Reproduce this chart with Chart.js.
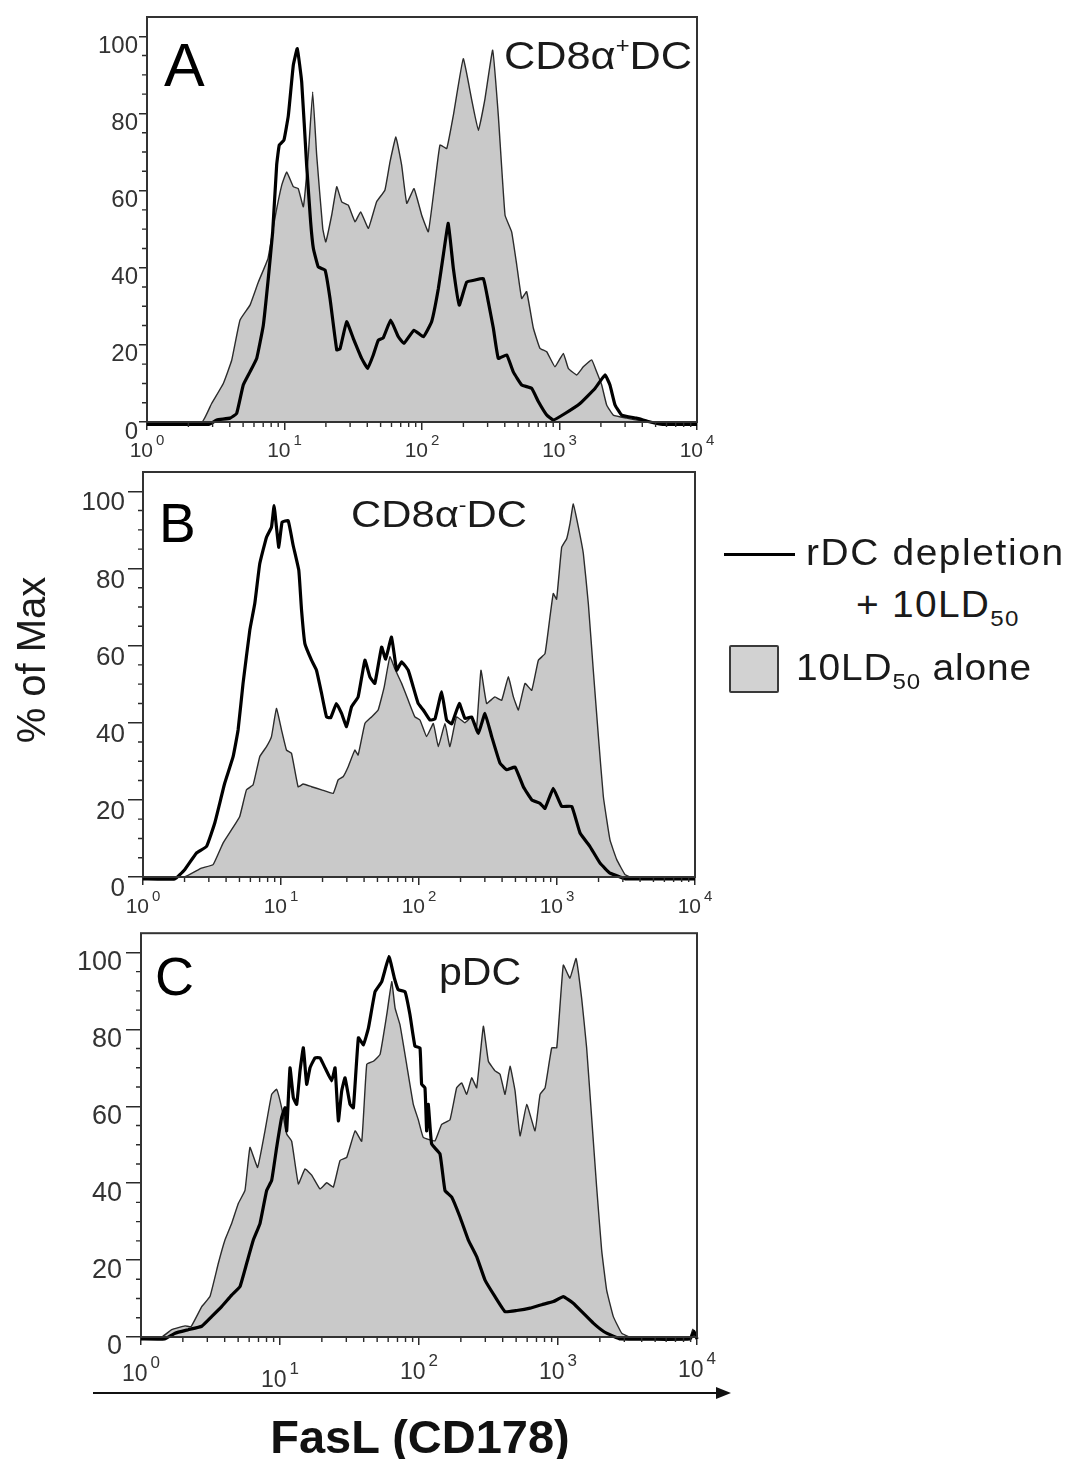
<!DOCTYPE html>
<html lang="en">
<head>
    <meta charset="UTF-8">
    <title>FasL (CD178) histograms</title>
    <style>
        * {
            margin: 0;
            padding: 0;
            box-sizing: border-box;
        }

        body {
            background: #fff;
            font-family: "Liberation Sans", Arial, sans-serif;
            color: #1a1a1a;
        }

        #figure {
            position: relative;
            width: 1068px;
            height: 1459px;
            overflow: hidden;
        }

        .panel {
            position: absolute;
            left: 0;
        }

        .txt {
            position: absolute;
            line-height: 1;
            white-space: nowrap;
            transform-origin: 0 0;
        }

        .letter { color: #000; }
        .title { color: #1a1a1a; }
        .title sup { font-size: 0.55em; vertical-align: 0.75em; line-height: 0; }
        .legend { transform: scaleX(1.08); }
        .legend sub { font-size: 0.62em; line-height: 0; vertical-align: -0.4em; }

        #legendLine {
            position: absolute;
            left: 724px;
            top: 553px;
            width: 71px;
            height: 3px;
            background: #000;
        }

        #legendBox {
            position: absolute;
            left: 729px;
            top: 645px;
            width: 50px;
            height: 48px;
            background: #d2d2d2;
            border: 2px solid #3a3a3a;
            border-radius: 2px;
        }

        #yTitle {
            position: absolute;
            left: 31px;
            top: 660px;
            width: 240px;
            text-align: center;
            font-size: 40px;
            line-height: 1;
            transform: translate(-50%, -50%) rotate(-90deg);
            color: #1a1a1a;
        }

        #xTitle {
            position: absolute;
            left: 120px;
            top: 1413px;
            width: 600px;
            text-align: center;
            font-size: 47px;
            font-weight: bold;
            line-height: 1;
            color: #111;
        }

        #arrow {
            position: absolute;
            left: 90px;
            top: 1385px;
        }
    </style>
    <script src="https://cdn.jsdelivr.net/npm/chart.js"></script>
</head>
<body>
<div id="figure">
    <div class="panel" id="wrapA"><canvas id="chartA"></canvas></div>
    <div class="panel" id="wrapB"><canvas id="chartB"></canvas></div>
    <div class="panel" id="wrapC"><canvas id="chartC"></canvas></div>

    <div class="txt letter" style="left:164px; top:35px; font-size:61px;">A</div>
    <div class="txt letter" style="left:159px; top:496px; font-size:55px;">B</div>
    <div class="txt letter" style="left:155px; top:949px; font-size:54px;">C</div>

    <div class="txt title" style="left:504px; top:36px; font-size:39px; transform:scaleX(1.11);">CD8&alpha;<sup>+</sup>DC</div>
    <div class="txt title" style="left:351px; top:496px; font-size:37px; transform:scaleX(1.13);">CD8&alpha;<sup>-</sup>DC</div>
    <div class="txt title" style="left:439px; top:953px; font-size:38px; transform:scaleX(1.08);">pDC</div>

    <!-- legend -->
    <div id="legendLine"></div>
    <div class="txt legend" style="left:806px; top:535px; font-size:36px; letter-spacing:1.5px;">rDC depletion</div>
    <div class="txt legend" style="left:856px; top:587px; font-size:36px; letter-spacing:1.2px;">+ 10LD<sub>50</sub></div>
    <div id="legendBox"></div>
    <div class="txt legend" style="left:796px; top:650px; font-size:36px; letter-spacing:0.8px;">10LD<sub>50</sub> alone</div>

    <div id="yTitle">% of Max</div>

    <svg id="arrow" width="645" height="16">
        <line x1="3" y1="8" x2="630" y2="8" stroke="#111" stroke-width="2"/>
        <polygon points="626,2 641,8 626,14" fill="#111"/>
    </svg>
    <div id="xTitle">FasL (CD178)</div>
</div>

<script>
    // axis ticks
    const xTickExp = [0, 1, 2, 3, 4];
    const xTickBase = '10';
    const yTickValues = [0, 20, 40, 60, 80, 100];

    // Panel A - CD8a+ DC  (x = log10 of FasL intensity, y = % of max)
    const aGrayExp = [0, 0.40, 0.47, 0.555, 0.616, 0.676, 0.749, 0.81, 0.88, 0.93, 0.98, 1.016, 1.064, 1.10, 1.137, 1.173, 1.205, 1.234, 1.278, 1.30, 1.343, 1.38, 1.416, 1.464, 1.513, 1.554, 1.61, 1.67, 1.73, 1.767, 1.81, 1.852, 1.889, 1.942, 1.998, 2.046, 2.095, 2.131, 2.18, 2.228, 2.30, 2.36, 2.41, 2.458, 2.514, 2.555, 2.604, 2.652, 2.689, 2.725, 2.761, 2.81, 2.858, 2.907, 2.967, 3.028, 3.064, 3.125, 3.173, 3.234, 3.27, 3.307, 3.343, 3.391, 3.489, 3.6, 3.7, 4];
    const aGrayPct = [0, 0, 4.8, 10, 16, 26.4, 30.3, 36.3, 42.4, 52.8, 61.4, 64.8, 61, 60.5, 55.8, 69.2, 85.6, 69.2, 50.2, 46.7, 53.6, 61, 57.1, 56.2, 51.9, 54.5, 50.2, 57.1, 60.1, 67.4, 73.9, 66.6, 56.7, 60.5, 53.6, 49.3, 62.3, 71.8, 70.9, 79.5, 94.2, 83.8, 75.6, 83.8, 96.4, 79.5, 53.6, 49.3, 40.7, 32, 33.8, 24.3, 19.1, 18.2, 14.3, 17.8, 13.9, 12.2, 14.3, 16.1, 13, 9.6, 4.4, 1.8, 1, 0.3, 0, 0];
    const aBlackExp = [0, 0.45, 0.507, 0.604, 0.652, 0.70, 0.749, 0.798, 0.846, 0.882, 0.914, 0.943, 0.962, 0.996, 1.028, 1.064, 1.093, 1.125, 1.161, 1.19, 1.21, 1.246, 1.295, 1.331, 1.38, 1.404, 1.452, 1.50, 1.561, 1.605, 1.646, 1.682, 1.718, 1.772, 1.828, 1.869, 1.942, 2.01, 2.07, 2.119, 2.155, 2.191, 2.228, 2.271, 2.325, 2.385, 2.446, 2.482, 2.519, 2.555, 2.616, 2.664, 2.725, 2.798, 2.846, 2.907, 2.955, 3.04, 3.149, 3.258, 3.331, 3.367, 3.404, 3.452, 3.56, 3.66, 3.75, 4];
    const aBlackPct = [-0.6, -0.6, 0.5, 1, 2.2, 9.6, 13, 16.5, 25.1, 37.2, 49.3, 66.6, 71.8, 73.1, 79.5, 92.5, 96.8, 88.2, 66.6, 51.9, 45, 40.2, 39.4, 32, 18.7, 19, 26, 21.7, 16.5, 13.9, 17.4, 21.2, 21.8, 26.4, 22.1, 20.4, 23.8, 22.1, 26, 34.6, 43.3, 51.5, 39.8, 30.3, 36.3, 36.8, 37.2, 31.2, 24.3, 16.5, 17.4, 13, 9.6, 8.7, 5.3, 1.8, 0.5, 2.2, 4.8, 8.7, 12.2, 9.6, 4.4, 1.8, 1, 0, -0.6, -0.6];

    // Panel B - CD8a- DC
    const bGrayExp = [0, 0.3, 0.423, 0.508, 0.58, 0.641, 0.701, 0.75, 0.798, 0.846, 0.895, 0.931, 0.967, 1.004, 1.04, 1.076, 1.124, 1.161, 1.221, 1.294, 1.378, 1.414, 1.45, 1.487, 1.535, 1.559, 1.608, 1.656, 1.704, 1.748, 1.789, 1.825, 1.874, 1.922, 1.97, 2.007, 2.055, 2.104, 2.14, 2.188, 2.224, 2.272, 2.333, 2.381, 2.417, 2.449, 2.49, 2.55, 2.599, 2.647, 2.684, 2.72, 2.768, 2.817, 2.865, 2.913, 2.949, 2.973, 2.997, 3.034, 3.07, 3.094, 3.118, 3.155, 3.191, 3.227, 3.263, 3.3, 3.336, 3.384, 3.433, 3.493, 3.53, 4];
    const bGrayPct = [0, 0, 2.3, 3.2, 8.8, 12.2, 15.7, 22.6, 23.9, 31.2, 33.8, 36.4, 43.7, 38.1, 32.9, 32.1, 23.4, 24.1, 23.4, 22.6, 21.7, 25.2, 26, 28.6, 32.9, 31.6, 39.8, 41.5, 43.3, 49.3, 57.1, 54, 50.2, 45.8, 41.5, 40.7, 36.4, 39.8, 33.8, 39.8, 33.8, 41.5, 40, 41.5, 38.8, 53.6, 45, 46.7, 45.8, 51.9, 46.7, 43.3, 50.2, 48.4, 56.2, 57.9, 67.4, 73.5, 72, 85.5, 87.7, 91.6, 96.7, 90.7, 83.8, 70.9, 53.6, 36.4, 20.8, 9.6, 4.5, 0.6, 0, 0];
    const bBlackExp = [0, 0.23, 0.302, 0.387, 0.46, 0.52, 0.592, 0.653, 0.689, 0.725, 0.774, 0.81, 0.846, 0.895, 0.931, 0.95, 0.967, 0.984, 1.008, 1.052, 1.088, 1.129, 1.149, 1.173, 1.221, 1.257, 1.294, 1.33, 1.36, 1.402, 1.439, 1.475, 1.511, 1.559, 1.608, 1.644, 1.68, 1.729, 1.758, 1.801, 1.838, 1.874, 1.922, 1.958, 1.994, 2.031, 2.079, 2.116, 2.164, 2.20, 2.237, 2.292, 2.333, 2.381, 2.43, 2.478, 2.527, 2.587, 2.635, 2.696, 2.756, 2.817, 2.877, 2.913, 2.973, 3.034, 3.107, 3.167, 3.239, 3.312, 3.384, 3.457, 3.5, 4];
    const bBlackPct = [-0.5, -0.5, 1.9, 6.2, 7.9, 14, 24.3, 31.2, 38.1, 50.2, 64, 70.9, 81.2, 88.1, 90.7, 96.3, 90.7, 85.5, 92, 92.4, 86, 79.5, 69.1, 60.5, 56.2, 53.6, 47.6, 41.5, 41.3, 45, 42.4, 39, 44.1, 46.7, 56.2, 51.9, 50.2, 59.6, 56.5, 62.2, 53.6, 55.8, 53.6, 49.3, 45, 43.3, 40.7, 41, 48, 40.7, 39.7, 45, 41.1, 41.5, 37.2, 42.4, 36.4, 29.5, 27.8, 28.5, 23.4, 20, 19.1, 17.8, 23, 18.3, 18.3, 11.4, 7.9, 3.6, 1, 0, -0.5, -0.5];

    // Panel C - pDC
    const cGrayExp = [0, 0.149, 0.221, 0.317, 0.36, 0.437, 0.496, 0.556, 0.604, 0.652, 0.70, 0.748, 0.784, 0.839, 0.892, 0.94, 0.976, 1.012, 1.048, 1.084, 1.132, 1.18, 1.228, 1.288, 1.336, 1.384, 1.432, 1.48, 1.54, 1.588, 1.624, 1.672, 1.72, 1.768, 1.804, 1.828, 1.863, 1.911, 1.959, 1.995, 2.031, 2.115, 2.163, 2.223, 2.271, 2.307, 2.343, 2.379, 2.415, 2.463, 2.499, 2.547, 2.583, 2.619, 2.655, 2.691, 2.727, 2.775, 2.835, 2.871, 2.907, 2.955, 2.991, 3.038, 3.086, 3.13, 3.17, 3.206, 3.242, 3.278, 3.314, 3.35, 3.398, 3.458, 3.518, 3.95, 3.97, 4];
    const cGrayPct = [0, 0, 1.9, 2.9, 2.7, 7.9, 10.5, 19.1, 25.2, 29.5, 34.7, 38.1, 49.3, 44.1, 53.6, 63.1, 64.4, 59.6, 52.8, 50.9, 39.8, 43.7, 42.1, 38.5, 40.1, 39, 45.9, 46.7, 53.6, 50.9, 70.9, 71.7, 73.5, 83.8, 92.4, 85.5, 81.2, 70.9, 60.5, 56.5, 51.9, 51, 55.3, 56.5, 64.8, 66.1, 63.1, 67.4, 64.8, 80.8, 71.7, 69.2, 68.3, 63.1, 70.4, 64, 52.3, 60.5, 53.6, 63.1, 64.8, 75.2, 75.2, 96.7, 93.3, 98.4, 88.1, 75.2, 57.1, 39, 22.6, 12.2, 5.3, 1, 0, 0, 2, 0];
    const cBlackExp = [0, 0.17, 0.245, 0.34, 0.437, 0.508, 0.58, 0.652, 0.712, 0.76, 0.808, 0.856, 0.904, 0.94, 0.976, 1.012, 1.036, 1.048, 1.072, 1.096, 1.12, 1.144, 1.168, 1.192, 1.216, 1.252, 1.288, 1.324, 1.372, 1.396, 1.42, 1.444, 1.468, 1.504, 1.528, 1.564, 1.6, 1.636, 1.684, 1.732, 1.784, 1.823, 1.851, 1.899, 1.935, 1.971, 2.007, 2.019, 2.043, 2.055, 2.067, 2.091, 2.151, 2.187, 2.235, 2.295, 2.355, 2.415, 2.475, 2.547, 2.619, 2.703, 2.799, 2.883, 2.967, 3.038, 3.11, 3.182, 3.254, 3.326, 3.398, 3.45, 3.95, 3.98, 4];
    const cBlackPct = [-0.5, -0.5, 1, 1.9, 2.8, 5.3, 7.9, 10.9, 13.1, 19.1, 25.2, 29.5, 38.1, 40.7, 49.3, 57.1, 59.6, 53.6, 70, 62.2, 60.5, 69.2, 75.2, 65.7, 70, 72.6, 72.6, 70, 66.6, 70, 56.2, 64, 67.4, 60.5, 59.6, 77.8, 76, 80.3, 89.8, 92.4, 98.9, 93.3, 90.3, 89.8, 83.8, 75.6, 75.2, 65.7, 64.8, 53.6, 60.5, 50.2, 47.6, 38.1, 36.4, 31.2, 25.2, 20.9, 14.8, 10.5, 6.6, 6.9, 7.5, 8.4, 9.2, 10.5, 8.8, 6.2, 3.6, 1.5, 0.2, -0.5, -0.5, 1.5, -0.5];

    function toPoints(exps, pcts) {
        return exps.map((e, i) => ({ x: Math.pow(10, e), y: pcts[i] }));
    }

    // frame box, minor tick marks and the 10^n labels
    const framePlugin = {
        id: 'frame',
        afterDraw(chart, args, opts) {
            const ctx = chart.ctx;
            const a = chart.chartArea;
            const xs = chart.scales.x;
            const ys = chart.scales.y;
            ctx.save();
            ctx.strokeStyle = '#2a2a2a';
            ctx.lineWidth = 1.4;
            ctx.beginPath();
            for (let v = 5; v < 105; v += 5) {
                if (v % 20 === 0) continue;
                const y = ys.getPixelForValue(v);
                ctx.moveTo(a.left - 5, y);
                ctx.lineTo(a.left, y);
            }
            for (let d = 0; d < 4; d++) {
                for (let k = 2; k <= 9; k++) {
                    const x = xs.getPixelForValue(k * Math.pow(10, d));
                    ctx.moveTo(x, a.bottom);
                    ctx.lineTo(x, a.bottom + 5);
                }
            }
            ctx.stroke();
            ctx.lineWidth = 2;
            ctx.strokeStyle = '#333';
            ctx.strokeRect(a.left, a.top, a.right - a.left, a.bottom - a.top);

            // x tick labels: "10" with a raised exponent
            ctx.fillStyle = '#333';
            ctx.textBaseline = 'alphabetic';
            ctx.textAlign = 'left';
            xTickExp.forEach((e, i) => {
                const x = xs.getPixelForValue(Math.pow(10, e));
                const base = a.bottom + opts.labelDrop[i];
                ctx.font = opts.baseSize + 'px "Liberation Sans"';
                const w1 = ctx.measureText(xTickBase).width;
                ctx.font = opts.expSize + 'px "Liberation Sans"';
                const w2 = ctx.measureText(String(e)).width;
                const x0 = x - (w1 + w2 + 3) / 2;
                ctx.font = opts.baseSize + 'px "Liberation Sans"';
                ctx.fillText(xTickBase, x0, base);
                ctx.font = opts.expSize + 'px "Liberation Sans"';
                ctx.fillText(String(e), x0 + w1 + 3, base - opts.baseSize * 0.55);
            });
            ctx.restore();
        }
    };

    function makePanel(id, wrapId, box, style, grayExp, grayPct, blackExp, blackPct) {
        const W = 740, yW = 90, xH = 45, padTop = 20, padBottom = 70;
        const H = (box.bottom - box.top) + padTop + padBottom;
        const wrap = document.getElementById(wrapId);
        wrap.style.top = (box.top - padTop) + 'px';
        const canvas = document.getElementById(id);
        canvas.width = W;
        canvas.height = H;

        new Chart(canvas.getContext('2d'), {
            type: 'line',
            data: {
                datasets: [{
                    label: 'rDC depletion + 10LD50',
                    data: toPoints(blackExp, blackPct),
                    borderColor: '#000',
                    borderWidth: 3.2,
                    fill: false,
                    pointRadius: 0,
                    tension: 0.1,
                    clip: false
                }, {
                    label: '10LD50 alone',
                    data: toPoints(grayExp, grayPct),
                    borderColor: '#2b2b2b',
                    backgroundColor: '#c9c9c9',
                    borderWidth: 1.4,
                    fill: 'origin',
                    pointRadius: 0,
                    tension: 0.1,
                    clip: false
                }]
            },
            options: {
                responsive: false,
                animation: false,
                events: [],
                layout: {
                    padding: {
                        left: box.left - yW,
                        right: W - box.right,
                        top: padTop,
                        bottom: padBottom - xH
                    }
                },
                plugins: {
                    legend: { display: false },
                    tooltip: { enabled: false },
                    frame: {
                        labelDrop: style.labelDrop,
                        baseSize: style.xFont,
                        expSize: style.xExpFont
                    }
                },
                scales: {
                    x: {
                        type: 'logarithmic',
                        min: 1,
                        max: 10000,
                        afterFit: s => { s.height = xH; },
                        afterBuildTicks: s => {
                            s.ticks = xTickExp.map(e => ({ value: Math.pow(10, e) }));
                        },
                        ticks: { display: false },
                        grid: {
                            drawOnChartArea: false,
                            tickLength: 8,
                            color: '#2a2a2a',
                            lineWidth: 1.5
                        },
                        border: { display: false }
                    },
                    y: {
                        min: 0,
                        max: 105,
                        afterFit: s => { s.width = yW; },
                        afterBuildTicks: s => {
                            s.ticks = yTickValues.map(v => ({ value: v }));
                        },
                        ticks: {
                            padding: style.yPad,
                            labelOffset: style.yOffset,
                            color: '#333',
                            font: { family: 'Liberation Sans', size: style.yFont }
                        },
                        grid: {
                            drawOnChartArea: false,
                            tickLength: style.yTick,
                            color: '#2a2a2a',
                            lineWidth: 1.5
                        },
                        border: { display: false }
                    }
                }
            },
            plugins: [framePlugin]
        });
    }

    makePanel('chartA', 'wrapA', { left: 147, right: 697, top: 17, bottom: 422 },
        { yFont: 24, yTick: 8, yPad: 1, yOffset: 10, xFont: 21, xExpFont: 15, labelDrop: [35, 35, 35, 35, 35] },
        aGrayExp, aGrayPct, aBlackExp, aBlackPct);
    makePanel('chartB', 'wrapB', { left: 143, right: 695, top: 472, bottom: 877 },
        { yFont: 26, yTick: 15, yPad: 3, yOffset: 12, xFont: 21, xExpFont: 15, labelDrop: [36, 36, 36, 36, 36] },
        bGrayExp, bGrayPct, bBlackExp, bBlackPct);
    makePanel('chartC', 'wrapC', { left: 141, right: 697, top: 933, bottom: 1337 },
        { yFont: 27, yTick: 15, yPad: 4, yOffset: 10, xFont: 23, xExpFont: 17, labelDrop: [44, 50, 42, 42, 40] },
        cGrayExp, cGrayPct, cBlackExp, cBlackPct);
</script>
</body>
</html>
